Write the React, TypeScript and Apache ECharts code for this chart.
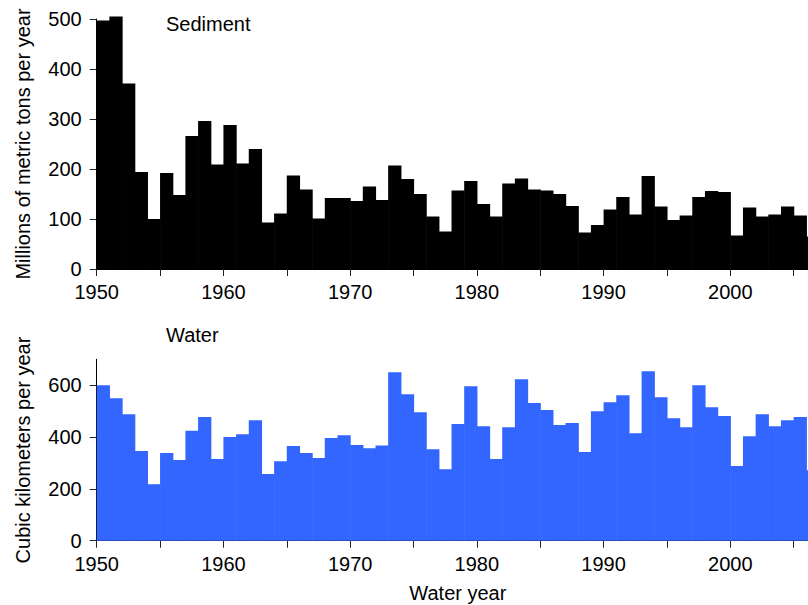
import React, { useEffect, useRef } from 'react';
import * as echarts from 'echarts';

const years = [
  1950, 1951, 1952, 1953, 1954, 1955, 1956, 1957, 1958, 1959,
  1960, 1961, 1962, 1963, 1964, 1965, 1966, 1967, 1968, 1969,
  1970, 1971, 1972, 1973, 1974, 1975, 1976, 1977, 1978, 1979,
  1980, 1981, 1982, 1983, 1984, 1985, 1986, 1987, 1988, 1989,
  1990, 1991, 1992, 1993, 1994, 1995, 1996, 1997, 1998, 1999,
  2000, 2001, 2002, 2003, 2004, 2005, 2006,
];

const sediment = [
  497, 505, 371, 194, 100, 192, 148, 266, 296, 209,
  288, 211, 240, 93, 111, 187, 159, 101, 142, 142,
  136, 165, 138, 207, 180, 150, 105, 75, 157, 176,
  130, 105, 171, 181, 159, 157, 150, 126, 73, 88,
  119, 144, 109, 186, 125, 98, 107, 144, 156, 154,
  67, 123, 105, 109, 125, 107, 65,
];

const water = [
  600, 550, 488, 346, 218, 338, 311, 424, 477, 315,
  400, 411, 465, 257, 307, 365, 338, 319, 396, 407,
  369, 357, 367, 650, 565, 496, 353, 276, 450, 596,
  442, 315, 438, 623, 531, 504, 446, 454, 342, 500,
  534, 561, 415, 654, 554, 473, 438, 600, 515, 481,
  288, 403, 488, 442, 465, 477, 272,
];

const sedimentTicks = [0, 100, 200, 300, 400, 500];
const waterTicks = [0, 200, 400, 600];
const yearTicks = [1950, 1955, 1960, 1965, 1970, 1975, 1980, 1985, 1990, 1995, 2000, 2005];
const yearLabels = [1950, 1960, 1970, 1980, 1990, 2000];

const FONT = 'Liberation Sans, Arial, Helvetica, sans-serif';
const TXT = { fontFamily: FONT, fontSize: 20, color: '#000' };

function barSeries(idx: number, values: number[], color: string) {
  return {
    type: 'custom',
    xAxisIndex: idx,
    yAxisIndex: idx,
    clip: false,
    encode: { x: 0, y: 1 },
    data: years.map((y, i) => [y, values[i]]),
    renderItem: (params: any, api: any) => {
      const x = api.value(0);
      const v = api.value(1);
      const p0 = api.coord([x, 0]);
      const p1 = api.coord([x + 1, v]);
      return {
        type: 'rect',
        shape: { x: p0[0], y: p1[1], width: p1[0] - p0[0] + 0.6, height: p0[1] - p1[1] },
        style: { fill: color },
      };
    },
  };
}

function xAxis(idx: number, withName: boolean) {
  return {
    type: 'value',
    gridIndex: idx,
    min: 1950,
    max: 2007,
    interval: 5,
    name: withName ? 'Water year' : '',
    nameLocation: 'middle',
    nameGap: 42,
    nameTextStyle: TXT,
    axisLine: { show: true, lineStyle: { color: '#000', width: 1 } },
    axisTick: { show: true, length: 7, lineStyle: { color: '#222' }, customValues: yearTicks },
    axisLabel: { ...TXT, margin: 13, customValues: yearLabels, formatter: (v: number) => (v % 10 === 0 ? String(v) : '') },
    splitLine: { show: false },
  };
}

function yAxis(idx: number, name: string, max: number, interval: number, ticks: number[]) {
  return {
    type: 'value',
    gridIndex: idx,
    min: 0,
    max,
    interval,
    name,
    nameLocation: 'middle',
    nameGap: 64,
    nameTextStyle: TXT,
    axisLine: { show: true, lineStyle: { color: '#000', width: 1 } },
    axisTick: { show: true, length: 7, lineStyle: { color: '#222' }, customValues: ticks },
    axisLabel: { ...TXT, margin: 15, customValues: ticks },
    splitLine: { show: false },
  };
}

export default function App() {
  const ref = useRef<HTMLDivElement>(null);
  useEffect(() => {
    if (!ref.current) return;
    const chart = echarts.init(ref.current, null, { renderer: 'svg' });
    chart.setOption({
      animation: false,
      backgroundColor: '#fff',
      grid: [
        { left: 96.7, top: 19, right: 0, height: 250 },
        { left: 96.7, top: 359.3, right: 0, height: 181.4 },
      ],
      xAxis: [xAxis(0, false), xAxis(1, true)],
      yAxis: [
        yAxis(0, 'Millions of metric tons per year', 500, 100, sedimentTicks),
        yAxis(1, 'Cubic kilometers per year', 700, 200, waterTicks),
      ],
      graphic: [
        { type: 'text', left: 166, top: 14, style: { text: 'Sediment', font: `20px ${FONT}`, fill: '#000' } },
        { type: 'text', left: 166, top: 325, style: { text: 'Water', font: `20px ${FONT}`, fill: '#000' } },
      ],
      series: [barSeries(0, sediment, '#000000'), barSeries(1, water, '#3366ff')],
    });
    return () => chart.dispose();
  }, []);
  return (
    <div style={{ position: 'fixed', left: 0, top: 0, width: 808, height: 605, overflow: 'hidden', background: '#fff' }}>
      <div ref={ref} style={{ width: 819, height: 605 }} />
    </div>
  );
}
